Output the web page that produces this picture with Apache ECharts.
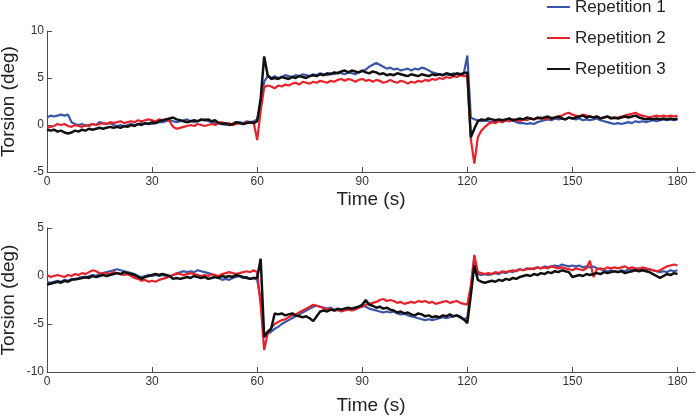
<!DOCTYPE html>
<html>
<head>
<meta charset="utf-8">
<script src="https://cdn.jsdelivr.net/npm/echarts@6/dist/echarts.min.js"></script>
<style>
html,body{margin:0;padding:0;background:#fff;}
#chart{width:697px;height:416px;}
</style>
</head>
<body>
<div id="chart"></div>
<script>
// Time samples (s)
const time = [
  0,1,2,3,4,5,6,7,8,9,
  10,11,12,13,14,15,16,17,18,19,
  20,21,22,23,24,25,26,27,28,29,
  30,31,32,33,34,35,36,37,38,39,
  40,41,42,43,44,45,46,47,48,49,
  50,51,52,53,54,55,56,57,58,59,
  60,61,62,63,64,65,66,67,68,69,
  70,71,72,73,74,75,76,77,78,79,
  80,81,82,83,84,85,86,87,88,89,
  90,91,92,93,94,95,96,97,98,99,
  100,101,102,103,104,105,106,107,108,109,
  110,111,112,113,114,115,116,117,118,119,
  120,121,122,123,124,125,126,127,128,129,
  130,131,132,133,134,135,136,137,138,139,
  140,141,142,143,144,145,146,147,148,149,
  150,151,152,153,154,155,156,157,158,159,
  160,161,162,163,164,165,166,167,168,169,
  170,171,172,173,174,175,176,177,178,179,
  180
];

const seriesNames = ['Repetition 1', 'Repetition 2', 'Repetition 3'];
const xTicks = [0, 30, 60, 90, 120, 150, 180];

// Upper panel torsion (deg)
const topRep1 = [
  0.8,1.0,0.9,1.0,1.1,1.0,1.1,0.3,0.1,0.0,
  0.1,-0.1,0.0,0.1,0.0,0.3,0.2,0.1,0.2,0.0,
  -0.1,0.0,-0.2,0.0,0.1,0.0,0.1,0.2,0.1,0.2,
  0.1,0.2,0.3,0.3,0.4,0.5,0.4,0.3,0.4,0.5,
  0.6,0.4,0.3,0.4,0.5,0.6,0.4,0.3,0.2,0.3,
  0.1,0.0,0.1,0.0,0.2,0.3,0.2,0.4,0.3,0.4,
  0.6,2.0,4.6,5.2,5.0,5.2,5.0,5.1,5.3,5.2,
  5.1,5.3,5.2,5.4,5.3,5.2,5.4,5.3,5.5,5.4,
  5.3,5.5,5.4,5.6,5.5,5.4,5.6,5.5,5.4,5.6,
  5.7,5.9,6.2,6.4,6.6,6.4,6.2,6.0,6.1,5.9,
  6.0,5.8,5.9,6.0,5.8,6.0,5.9,6.1,6.0,5.8,
  5.6,5.5,5.4,5.3,5.4,5.3,5.5,5.4,5.3,5.5,
  7.4,0.8,0.6,0.5,0.4,0.5,0.4,0.3,0.4,0.5,
  0.4,0.5,0.4,0.5,0.3,0.2,0.2,0.1,0.2,0.1,
  0.3,0.4,0.5,0.6,0.5,0.7,0.6,0.7,0.6,0.8,
  0.7,0.6,0.7,0.5,0.6,0.5,0.6,0.7,0.5,0.4,
  0.3,0.2,0.1,0.2,0.1,0.2,0.3,0.2,0.4,0.3,
  0.4,0.3,0.4,0.5,0.4,0.5,0.6,0.5,0.6,0.5,
  0.6
];
const topRep2 = [
  -0.3,-0.2,-0.1,0.1,0.0,0.1,-0.1,-0.2,0.0,-0.1,
  -0.2,0.0,-0.1,0.1,0.0,0.1,0.2,0.1,0.3,0.2,
  0.3,0.4,0.2,0.3,0.4,0.3,0.5,0.4,0.5,0.6,
  0.5,0.4,0.6,0.5,0.6,0.4,-0.2,-0.4,-0.3,-0.2,
  -0.1,0.0,-0.1,0.1,0.0,-0.1,0.0,0.1,0.0,0.2,
  0.3,0.1,0.2,0.0,0.1,0.2,0.1,0.3,0.2,0.3,
  -1.6,1.5,4.0,4.2,4.1,3.9,4.2,4.1,4.3,4.2,
  4.4,4.5,4.3,4.6,4.5,4.4,4.6,4.5,4.7,4.6,
  4.5,4.7,4.6,4.8,4.9,4.7,4.9,4.8,4.6,4.8,
  4.9,4.7,4.8,4.6,4.8,4.7,4.5,4.6,4.8,4.6,
  4.5,4.7,4.6,4.4,4.6,4.5,4.7,4.6,4.8,4.7,
  4.9,4.8,5.0,4.9,5.1,5.0,5.2,5.1,5.3,5.2,
  5.2,-1.5,-4.1,-1.3,-0.6,-0.2,0.1,0.3,0.2,0.4,
  0.3,0.5,0.4,0.6,0.5,0.4,0.6,0.5,0.7,0.6,
  0.7,0.8,0.6,0.7,0.8,0.7,0.9,1.0,1.2,1.3,
  1.1,1.0,0.9,1.1,1.0,0.9,0.8,0.9,0.7,0.8,
  0.9,0.8,0.7,0.8,0.9,1.0,1.1,1.2,1.3,1.1,
  1.0,0.9,0.8,0.9,1.0,0.9,1.0,0.9,1.0,0.9,
  1.0
];
const topRep3 = [
  -0.5,-0.6,-0.5,-0.7,-0.6,-0.8,-0.9,-0.8,-0.6,-0.7,
  -0.5,-0.6,-0.4,-0.5,-0.4,-0.3,-0.4,-0.3,-0.2,-0.3,
  -0.2,-0.3,-0.1,-0.2,0.0,-0.1,0.1,0.0,0.2,0.1,
  0.3,0.2,0.4,0.5,0.6,0.7,0.8,0.6,0.5,0.4,
  0.3,0.4,0.5,0.4,0.6,0.5,0.6,0.4,0.5,0.2,
  0.1,0.2,0.0,0.1,0.3,0.2,0.1,0.2,0.3,0.2,
  0.4,2.8,7.3,5.3,4.9,5.0,4.9,5.1,5.0,4.9,
  5.1,5.0,5.2,5.1,5.0,5.2,5.3,5.2,5.4,5.3,
  5.5,5.4,5.6,5.5,5.7,5.8,5.6,5.8,5.7,5.6,
  5.8,5.6,5.5,5.7,5.6,5.4,5.5,5.3,5.4,5.3,
  5.5,5.4,5.3,5.2,5.4,5.3,5.2,5.4,5.3,5.2,
  5.4,5.3,5.4,5.3,5.5,5.4,5.3,5.5,5.4,5.5,
  5.6,-1.3,-0.4,0.4,0.6,0.5,0.7,0.6,0.5,0.6,
  0.5,0.6,0.7,0.5,0.6,0.7,0.6,0.8,0.7,0.6,
  0.8,0.7,0.8,0.9,0.7,0.8,0.9,0.7,0.6,0.8,
  0.7,0.8,0.9,1.0,0.8,0.9,0.8,0.9,0.7,0.8,
  0.9,0.7,0.8,0.7,0.8,0.9,0.8,0.9,1.0,0.8,
  0.7,0.6,0.7,0.6,0.7,0.6,0.7,0.6,0.7,0.6,
  0.7
];

// Lower panel torsion (deg)
const botRep1 = [
  -0.6,-0.7,-0.6,-0.5,-0.6,-0.4,-0.5,-0.3,-0.4,-0.2,
  -0.1,-0.2,0.0,0.1,0.0,0.2,0.3,0.4,0.5,0.6,
  0.7,0.6,0.5,0.4,0.3,0.2,0.0,-0.1,0.0,0.1,
  0.0,0.1,0.0,0.1,0.0,-0.1,0.1,0.2,0.4,0.5,
  0.4,0.5,0.4,0.6,0.5,0.4,0.3,0.2,0.0,-0.2,
  -0.4,-0.3,-0.4,-0.2,-0.1,0.0,-0.2,-0.1,-0.3,-0.2,
  -0.4,-2.5,-6.4,-6.0,-5.8,-5.5,-5.3,-5.0,-4.8,-4.6,
  -4.4,-4.2,-4.0,-3.8,-3.6,-3.4,-3.2,-3.1,-3.2,-3.3,
  -3.4,-3.3,-3.5,-3.6,-3.5,-3.4,-3.5,-3.4,-3.3,-3.2,
  -3.1,-3.2,-3.4,-3.5,-3.6,-3.7,-3.8,-3.7,-3.8,-3.7,
  -3.9,-4.0,-3.9,-4.1,-4.2,-4.3,-4.4,-4.5,-4.6,-4.5,
  -4.6,-4.5,-4.4,-4.3,-4.4,-4.3,-4.2,-4.1,-4.2,-4.6,
  -4.3,-1.5,1.9,0.2,0.1,0.2,0.1,0.2,0.3,0.2,
  0.4,0.3,0.5,0.4,0.6,0.7,0.6,0.8,0.7,0.8,
  0.9,0.8,1.0,0.9,1.0,1.1,1.0,1.2,1.1,1.0,
  1.1,1.0,1.1,0.9,1.0,0.9,1.0,0.8,0.7,0.6,
  0.5,0.6,0.5,0.4,0.6,0.5,0.7,0.6,0.7,0.8,
  0.7,0.6,0.7,0.6,0.5,0.4,0.5,0.4,0.6,0.5,
  0.6
];
const botRep2 = [
  0.1,-0.1,0.0,0.1,0.0,-0.1,0.1,0.0,0.2,0.1,
  0.3,0.2,0.4,0.6,0.5,0.3,0.2,0.3,0.2,0.4,
  0.3,0.2,0.1,0.2,0.0,-0.2,-0.3,-0.5,-0.4,-0.6,
  -0.5,-0.6,-0.4,-0.3,-0.2,0.0,0.1,0.3,0.2,0.1,
  0.2,0.3,0.2,0.1,0.0,0.1,0.0,0.2,0.1,0.0,
  0.2,0.3,0.4,0.3,0.2,0.3,0.4,0.5,0.4,0.6,
  0.4,-3.0,-7.7,-6.0,-5.4,-5.0,-4.8,-4.6,-4.5,-4.3,
  -4.1,-4.0,-3.8,-3.6,-3.4,-3.2,-3.0,-3.1,-3.2,-3.4,
  -3.5,-3.4,-3.6,-3.5,-3.7,-3.6,-3.5,-3.6,-3.5,-3.3,
  -3.2,-3.0,-2.9,-2.8,-2.7,-2.5,-2.4,-2.6,-2.5,-2.6,
  -2.8,-2.7,-2.9,-2.8,-2.7,-2.8,-2.6,-2.7,-2.6,-2.8,
  -2.7,-2.9,-2.8,-2.7,-2.6,-2.8,-2.7,-2.6,-2.8,-2.9,
  -3.0,-1.0,2.2,0.4,0.3,0.2,0.3,0.2,0.4,0.3,
  0.5,0.4,0.5,0.6,0.5,0.7,0.6,0.7,0.8,0.7,
  0.9,0.8,0.9,0.8,1.0,0.9,0.8,0.9,0.8,0.7,
  0.6,0.8,0.7,0.6,0.8,1.6,-0.1,0.7,0.8,0.7,
  0.9,0.8,0.9,0.8,0.9,1.0,0.8,0.9,0.8,0.7,
  0.9,0.8,0.7,0.6,0.5,0.6,0.8,1.0,1.1,1.2,
  1.1
];
const botRep3 = [
  -0.9,-0.8,-0.7,-0.6,-0.7,-0.5,-0.6,-0.4,-0.3,-0.3,
  -0.2,-0.1,-0.2,0.0,-0.1,0.0,0.1,0.0,0.1,0.2,
  0.3,0.2,0.4,0.3,0.2,0.1,-0.1,-0.3,-0.1,0.0,
  0.1,0.2,0.1,0.2,0.1,0.0,-0.3,-0.2,-0.3,-0.2,
  -0.1,-0.2,0.0,-0.1,-0.2,-0.1,-0.3,-0.2,-0.1,-0.2,
  0.0,-0.1,0.0,-0.1,0.1,0.0,-0.1,-0.2,-0.3,-0.2,
  -0.2,1.8,-6.3,-5.8,-5.5,-3.9,-4.0,-3.9,-4.1,-4.0,
  -3.9,-4.1,-4.2,-4.3,-4.2,-4.4,-4.7,-4.2,-3.7,-3.6,
  -3.7,-3.5,-3.6,-3.4,-3.5,-3.4,-3.3,-3.4,-3.3,-3.2,
  -3.0,-2.5,-3.0,-3.1,-3.3,-3.2,-3.4,-3.3,-3.5,-3.6,
  -3.8,-3.7,-3.9,-3.8,-4.0,-4.1,-3.9,-4.0,-4.2,-4.1,
  -4.3,-4.2,-4.3,-4.1,-4.2,-4.0,-4.2,-4.1,-4.3,-4.5,
  -4.9,-2.0,1.1,-0.4,-0.6,-0.7,-0.6,-0.5,-0.6,-0.4,
  -0.5,-0.3,-0.4,-0.2,-0.3,-0.1,0.0,0.1,0.0,0.2,
  0.1,0.3,0.2,0.4,0.3,0.5,0.4,0.6,0.5,0.4,
  -0.1,0.0,0.1,0.0,0.2,0.1,0.2,0.3,0.2,0.4,
  0.3,0.4,0.5,0.4,0.5,0.3,0.4,0.5,0.6,0.5,
  0.6,0.5,0.4,0.2,0.0,-0.2,0.0,0.2,0.1,0.3,
  0.2
];

const colors = ['#3a56a8', '#e8222a', '#111111'];
const font = '"Liberation Sans", Arial, Helvetica, sans-serif';
const axisColor = '#4d4d4d';

function pairs(vals) { return time.map((t, i) => [t, vals[i]]); }

function makeX(gridIndex, gap) {
  return {
    type: 'value', gridIndex: gridIndex, min: 0, max: 185,
    axisLine: { show: true, onZero: false, lineStyle: { color: axisColor, width: 1 } },
    axisTick: { show: true, inside: true, length: 5, customValues: xTicks, lineStyle: { color: axisColor } },
    axisLabel: { customValues: xTicks, color: '#333', fontSize: 12, margin: 4, fontFamily: font },
    splitLine: { show: false },
    name: 'Time (s)', nameLocation: 'middle', nameGap: gap, nameMoveOverlap: false,
    nameTextStyle: { fontSize: 19, color: '#222', fontFamily: font }
  };
}
function makeY(gridIndex, mn, mx) {
  return {
    type: 'value', gridIndex: gridIndex, min: mn, max: mx, interval: 5,
    axisLine: { show: true, onZero: false, lineStyle: { color: axisColor, width: 1 } },
    axisTick: { show: true, inside: true, length: 5, lineStyle: { color: axisColor } },
    axisLabel: { color: '#333', fontSize: 12, margin: 3, fontFamily: font },
    splitLine: { show: false },
    name: 'Torsion (deg)', nameLocation: 'middle', nameGap: 29, nameRotate: 90, nameMoveOverlap: false,
    nameTextStyle: { fontSize: 19, color: '#222', fontFamily: font }
  };
}

const topData = [topRep1, topRep2, topRep3];
const botData = [botRep1, botRep2, botRep3];
const series = [];
[topData, botData].forEach((set, g) => {
  set.forEach((vals, k) => {
    series.push({
      name: seriesNames[k], type: 'line', xAxisIndex: g, yAxisIndex: g,
      data: pairs(vals), showSymbol: false, symbol: 'none',
      lineStyle: { color: colors[k], width: k === 2 ? 2.5 : 2.2 }, itemStyle: { color: colors[k] },
      animation: false, z: 2 + k
    });
  });
});

const chart = echarts.init(document.getElementById('chart'), null, { renderer: 'canvas' });
chart.setOption({
  backgroundColor: '#fff',
  animation: false,
  legend: {
    data: seriesNames, orient: 'vertical', left: 547, top: -3, padding: 0,
    itemGap: 11, itemWidth: 23, itemHeight: 2, icon: 'rect',
    textStyle: { fontSize: 17, color: '#222', fontFamily: font, lineHeight: 20 }
  },
  grid: [
    { left: 47, right: 2, top: 31, height: 141, outerBoundsMode: 'none', containLabel: false },
    { left: 47, right: 2, top: 228, height: 144, outerBoundsMode: 'none', containLabel: false }
  ],
  xAxis: [makeX(0, 18), makeX(1, 24)],
  yAxis: [makeY(0, -5, 10), makeY(1, -10, 5)],
  series: series
});
</script>
</body>
</html>
